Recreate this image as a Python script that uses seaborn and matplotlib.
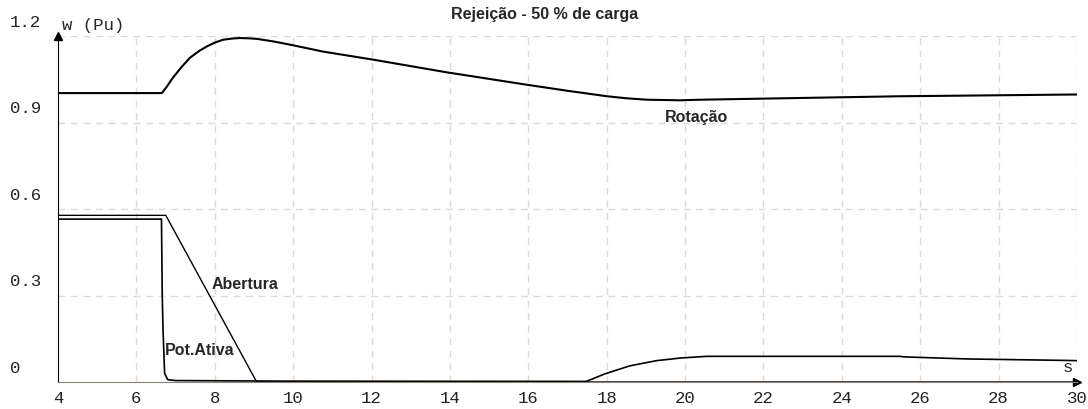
import matplotlib
matplotlib.use("Agg")
import matplotlib.pyplot as plt
import matplotlib.transforms as mtransforms
import seaborn as sns
import pandas as pd

t_rot = [4.0, 6.65, 6.78, 6.93, 7.15, 7.37, 7.60, 7.80, 8.0, 8.21, 8.43, 8.64,
         8.86, 9.08, 9.50, 9.92, 10.76, 12.04, 13.92, 15.96, 17.0, 18.01, 18.5,
         19.03, 19.87, 20.38, 22.93, 25.48, 29.89, 30.0]
rotacao = [1.002, 1.002, 1.025, 1.055, 1.092, 1.125, 1.148, 1.164, 1.177, 1.187,
           1.191, 1.193, 1.192, 1.190, 1.181, 1.170, 1.146, 1.118, 1.074, 1.031,
           1.010, 0.991, 0.984, 0.979, 0.977, 0.979, 0.985, 0.991, 0.997, 0.997]

t_abe = [4.0, 6.75, 9.07, 30.0]
abertura = [0.578, 0.578, 0.0, 0.0]

t_pot = [4.0, 6.64, 6.66, 6.68, 6.72, 6.80, 7.0, 9.8, 17.45, 17.5, 17.95, 18.59,
         19.27, 19.87, 20.55, 25.48, 25.6, 27.18, 29.64, 30.0]
pot_ativa = [0.565, 0.565, 0.30, 0.18, 0.03, 0.008, 0.005, 0.003, 0.002, 0.003,
             0.028, 0.056, 0.074, 0.083, 0.089, 0.089, 0.087, 0.080, 0.075, 0.074]

x_ticks = list(range(4, 31, 2))
y_ticks = [0, 0.3, 0.6, 0.9, 1.2]
y_tick_labels = ["0", "0.3", "0.6", "0.9", "1.2"]

sns.set_style("white")
mono = "Liberation Mono"
sans = "Liberation Sans"

fig = plt.figure(figsize=(10.88, 4.10), dpi=100)
ax = fig.add_axes([58 / 1088, 27 / 410, (1077 - 58) / 1088, (383 - 37) / 410])

df_rot = pd.DataFrame({"t": t_rot, "v": rotacao})
df_abe = pd.DataFrame({"t": t_abe, "v": abertura})
df_pot = pd.DataFrame({"t": t_pot, "v": pot_ativa})
sns.lineplot(data=df_rot, x="t", y="v", color="black", linewidth=1.5, ax=ax)
sns.lineplot(data=df_abe, x="t", y="v", color="black", linewidth=1.0, ax=ax)
sns.lineplot(data=df_pot, x="t", y="v", color="black", linewidth=1.2, ax=ax)

ax.set_xlim(4, 30)
ax.set_ylim(0, 1.2)
ax.set_xlabel("")
ax.set_ylabel("")

# grade tracejada
for xv in x_ticks[1:]:
    ax.axvline(xv, color="#e2d9d0", linestyle=(0, (5, 4)), linewidth=1, zorder=0)
for yv in y_ticks[1:]:
    ax.axhline(yv, color="#e2d9d0", linestyle=(0, (5, 4)), linewidth=1, zorder=0)

for side in ["top", "right"]:
    ax.spines[side].set_visible(False)
ax.spines["left"].set_color("black")
ax.spines["bottom"].set_color("#8a827a")

ax.set_xticks(x_ticks)
ax.set_xticklabels([str(v) for v in x_ticks], fontfamily=mono, fontsize=12.5, color="#222222")
ax.tick_params(axis="x", direction="inout", length=8, width=1, color="black", pad=2)
ax.set_yticks(y_ticks)
ax.set_yticklabels([])
ax.tick_params(axis="y", direction="out", length=4, width=1, color="black")

# rótulos do eixo y deslocados para cima, como no original
lab_tr = mtransforms.offset_copy(ax.get_yaxis_transform(), fig=fig, x=0, y=7, units="dots")
for yv, lab in zip(y_ticks, y_tick_labels):
    ax.text(-48 / 1019, yv, lab, transform=lab_tr, ha="left", va="bottom",
            fontfamily=mono, fontsize=12.5, color="#222222")

# setas dos eixos
ax.plot(0, 1, marker="^", color="black", markersize=6, transform=ax.transAxes, clip_on=False)
ax.plot(1, 0, marker=">", color="black", markersize=6, transform=ax.transAxes, clip_on=False)

ax.text(4.10, 1.225, "w (Pu)", fontfamily=mono, fontsize=12.5, ha="left", va="baseline")
ax.text(29.77, 0.055, "s", fontfamily=mono, fontsize=12.5, ha="center", va="center")

ax.text(20.30, 0.920, "Rotação", fontfamily=sans, fontweight="bold", fontsize=11.5,
        ha="center", va="center")
ax.text(8.77, 0.343, "Abertura", fontfamily=sans, fontweight="bold", fontsize=11.5,
        ha="center", va="center")
ax.text(7.61, 0.114, "Pot.Ativa", fontfamily=sans, fontweight="bold", fontsize=11.5,
        ha="center", va="center")

fig.text(545 / 1088, 1 - 14 / 410, "Rejeição - 50 % de carga", fontfamily=sans,
         fontweight="bold", fontsize=11.5, ha="center", va="center")

fig.savefig("out.png", dpi=100)
